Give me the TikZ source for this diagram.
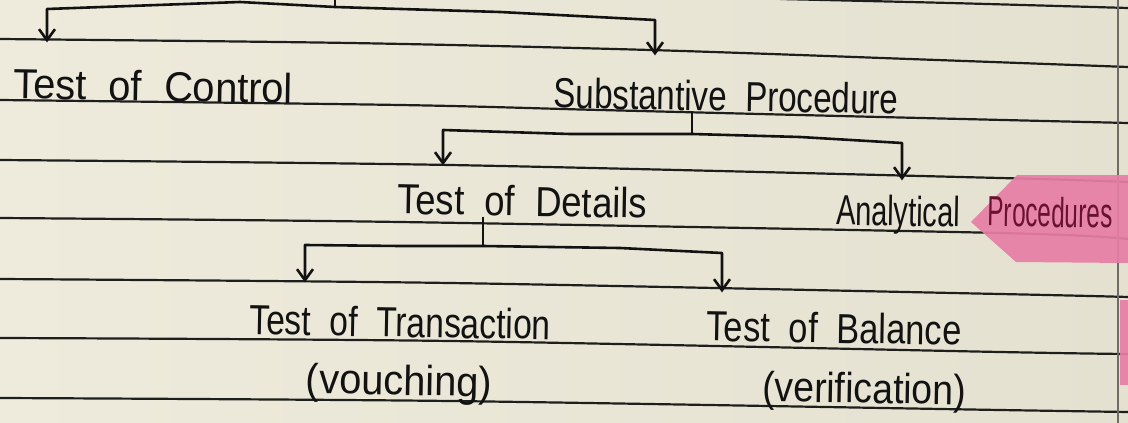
\documentclass[tikz,border=0pt]{standalone}
\usepackage{fontspec}
\setmainfont[WordSpace=2]{Liberation Sans}
\usetikzlibrary{arrows.meta}
\definecolor{paper}{RGB}{238,235,220}
\definecolor{paperR}{RGB}{228,225,209}
\definecolor{rule}{RGB}{30,30,28}
\definecolor{margin}{RGB}{110,108,100}
\definecolor{ink}{RGB}{18,18,18}
\definecolor{tab}{RGB}{232,126,166}
\definecolor{tabink}{RGB}{105,18,48}

\begin{document}
\begin{tikzpicture}[x=1pt,y=-1pt,
  ruled/.style={draw=rule,line width=2.2pt},
  conn/.style={draw=ink,line width=2.6pt,line join=round},
  tip/.style={-{Straight Barb[length=11pt,width=16pt]}},
  lbl/.style={text=ink,font=\fontsize{42}{46}\selectfont,inner sep=0pt,anchor=base,rotate=-1}]

% notebook page
\useasboundingbox (0,0) rectangle (1128,423);
\shade[left color=paper,right color=paperR] (0,0) rectangle (1128,423);

% ruled lines
\draw[ruled] plot[smooth] coordinates {(780,-1) (950,3) (1128,8)};
\draw[ruled] plot[smooth] coordinates {(0,39) (350,43) (650,50) (937,60) (1128,67)};
\draw[ruled] plot[smooth] coordinates {(0,100) (400,105) (600,110) (880,117) (1128,123)};
\draw[ruled] plot[smooth] coordinates {(0,160) (450,165) (1000,178) (1128,182)};
\draw[ruled] plot[smooth] coordinates {(0,218) (400,222) (1000,233) (1128,239)};
\draw[ruled] plot[smooth] coordinates {(0,279) (450,283) (1000,294) (1128,297)};
\draw[ruled] plot[smooth] coordinates {(0,338) (450,341) (1000,352) (1128,354)};
\draw[ruled] plot[smooth] coordinates {(0,398) (450,401) (1000,410) (1128,412)};
\draw[margin,line width=1.2pt] (1118,0) -- (1118,423);

% sticky tabs on the page edge
\fill[tab,opacity=0.92] (1017,175) -- (1128,175) -- (1128,263) -- (1016,262) -- (971,222) -- cycle;
\fill[tab,opacity=0.92] (1120,300) rectangle (1128,385);

% labels
\node[lbl,xscale=0.95] (tc) at (153,101) {Test of Control};
\node[lbl,xscale=0.79] (sp) at (726,111) {Substantive Procedure};
\node[lbl,xscale=0.87] (td) at (522,216) {Test of Details};
\node[lbl,xscale=0.69] (ap) at (898,226) {Analytical};
\node[lbl,xscale=0.58,text=tabink] (apb) at (1050,227) {Procedures};
\node[lbl,xscale=0.80] (tt) at (400,337) {Test of Transaction};
\node[lbl,xscale=0.95] (tt2) at (399,395) {(vouching)};
\node[lbl,xscale=0.82] (tb) at (834,343) {Test of Balance};
\node[lbl,xscale=0.89] (tb2) at (864,403) {(verification)};

% branch points
\coordinate (root) at (335,-2);
\coordinate (rj) at (335,7);
\coordinate (rl) at (47,9);
\coordinate (rr) at (655,20);
\coordinate (sj) at (692,134);
\coordinate (sl) at (443,130);
\coordinate (sr) at (902,143);
\coordinate (dj) at (483,246);
\coordinate (dl) at (305,245);
\coordinate (dr) at (722,253);

% first split
\draw[conn] (root) -- (rj);
\draw[conn,tip,shorten >=28pt] (rj) -- (240,2) -- (rl) -- (rl |- tc.north);
\draw[conn,tip,shorten >=25pt] (rj) -- (500,12) -- (rr) -- (rr |- sp.north);

% substantive procedure
\draw[conn] (sj |- sp.south) -- (sj);
\draw[conn,tip,shorten >=20pt] (sj) -- (570,134) -- (sl) -- (sl |- td.north);
\draw[conn,tip,shorten >=15pt] (sj) -- (800,137) -- (sr) -- (sr |- ap.north);

% test of details
\draw[conn] (dj |- td.south) -- (dj);
\draw[conn,tip,shorten >=24pt] (dj) -- (400,246) -- (dl) -- (dl |- tt.north);
\draw[conn,tip,shorten >=20pt] (dj) -- (620,248) -- (dr) -- (dr |- tb.north);
\end{tikzpicture}
\end{document}
